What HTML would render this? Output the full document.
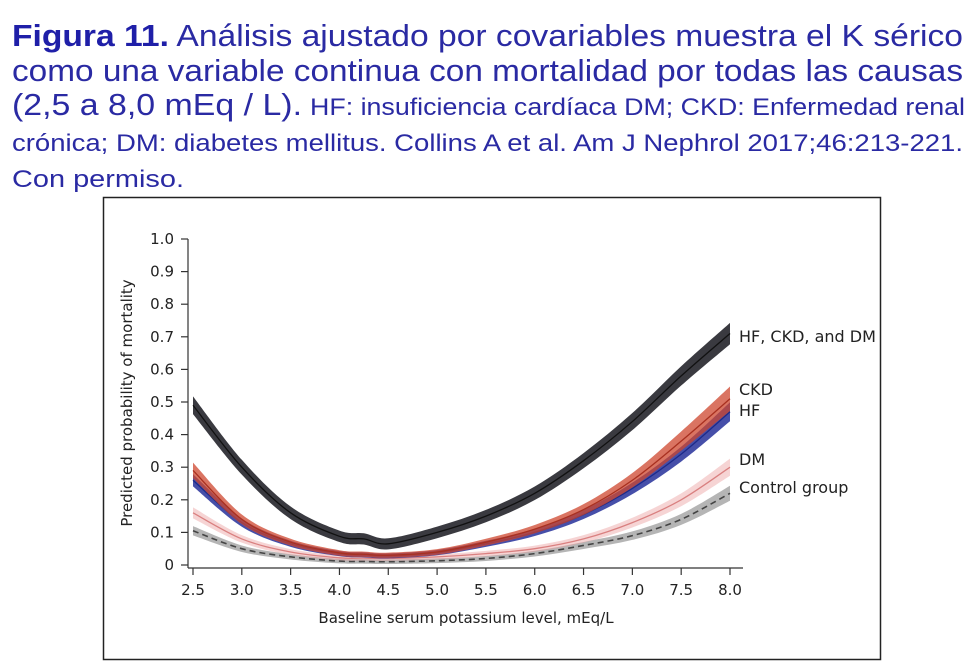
<!DOCTYPE html>
<html><head><meta charset="utf-8"><style>
html,body{margin:0;padding:0;background:#fff;}
svg{display:block;}
</style></head><body>
<svg id="fig" width="975" height="669" viewBox="0 0 975 669" xmlns="http://www.w3.org/2000/svg">
<g font-family="'Liberation Sans', sans-serif" fill="#2a2aa3">
<text x="12" y="46" font-size="31" textLength="951" lengthAdjust="spacingAndGlyphs"><tspan font-weight="bold" fill="#1f1fa8">Figura 11.</tspan> Análisis ajustado por covariables muestra el K sérico</text>
<text x="12" y="81" font-size="31" textLength="951" lengthAdjust="spacingAndGlyphs">como una variable continua con mortalidad por todas las causas</text>
<text x="12" y="115" font-size="31" textLength="290" lengthAdjust="spacingAndGlyphs">(2,5 a 8,0 mEq / L).</text>
<text x="310" y="115" font-size="24" textLength="655" lengthAdjust="spacingAndGlyphs">HF: insuficiencia cardíaca DM; CKD: Enfermedad renal</text>
<text x="12" y="151" font-size="24" textLength="951" lengthAdjust="spacingAndGlyphs">crónica; DM: diabetes mellitus. Collins A et al. Am J Nephrol 2017;46:213-221.</text>
<text x="12" y="187" font-size="24" textLength="172" lengthAdjust="spacingAndGlyphs">Con permiso.</text>
</g>
<rect x="103.5" y="197.5" width="777" height="462" fill="none" stroke="#222" stroke-width="1.5"/>
<g id="plot"></g>
</svg>
<script>
const xs = [2.5,3.0,3.5,4.0,4.25,4.5,5.0,5.5,6.0,6.5,7.0,7.5,8.0];
const yHFCKDDM = [0.49,0.30,0.16,0.088,0.08,0.065,0.10,0.15,0.22,0.32,0.44,0.58,0.71];
const yCKD = [0.29,0.14,0.07,0.037,0.033,0.03,0.04,0.07,0.11,0.17,0.26,0.38,0.51];
const yHF = [0.26,0.13,0.065,0.035,0.031,0.028,0.038,0.065,0.10,0.155,0.235,0.34,0.47];
const yDM = [0.16,0.08,0.04,0.022,0.021,0.02,0.025,0.035,0.05,0.08,0.13,0.20,0.30];
const yControl = [0.105,0.05,0.025,0.012,0.011,0.01,0.013,0.02,0.035,0.06,0.09,0.14,0.22];
const xTicks = [2.5,3.0,3.5,4.0,4.5,5.0,5.5,6.0,6.5,7.0,7.5,8.0];
const xTickLabels = ["2.5","3.0","3.5","4.0","4.5","5.0","5.5","6.0","6.5","7.0","7.5","8.0"];
const yTicks = [0,0.1,0.2,0.3,0.4,0.5,0.6,0.7,0.8,0.9,1.0];
const yTickLabels = ["0","0.1","0.2","0.3","0.4","0.5","0.6","0.7","0.8","0.9","1.0"];
const seriesNames = ["HF, CKD, and DM","CKD","HF","DM","Control group"];

const NS="http://www.w3.org/2000/svg";
const g=document.getElementById('plot');
const X=v=>193+(v-2.5)*(730-193)/5.5;
const Y=v=>565-v*326;
const FF="'DejaVu Sans', sans-serif";
function mk(tag,attrs,parent){const e=document.createElementNS(NS,tag);for(const k in attrs)e.setAttribute(k,attrs[k]);(parent||g).appendChild(e);return e;}
function smooth(pts){let d="M"+pts[0][0]+","+pts[0][1];for(let i=0;i<pts.length-1;i++){const p0=pts[Math.max(i-1,0)],p1=pts[i],p2=pts[i+1],p3=pts[Math.min(i+2,pts.length-1)];const c1=[p1[0]+(p2[0]-p0[0])/6,p1[1]+(p2[1]-p0[1])/6],c2=[p2[0]-(p3[0]-p1[0])/6,p2[1]-(p3[1]-p1[1])/6];d+=" C"+c1[0]+","+c1[1]+" "+c2[0]+","+c2[1]+" "+p2[0]+","+p2[1];}return d;}
function curve(ys,bandColor,lineColor,hw,name,dash,lineW){
  const up=xs.map((x,i)=>[X(x),Y(ys[i])-hw(ys[i])]);
  const lo=xs.map((x,i)=>[X(x),Y(ys[i])+hw(ys[i])]).reverse();
  const d=smooth(up)+" L"+smooth(lo).slice(1)+" Z";
  const b=mk('path',{d:d,fill:bandColor});
  
  
  const l=mk('path',{d:smooth(xs.map((x,i)=>[X(x),Y(ys[i])])),fill:'none',stroke:lineColor,'stroke-width':lineW||1.3});
  if(dash)l.setAttribute('stroke-dasharray',dash);
  
  
}
curve(yControl,'rgba(120,120,120,0.55)','#444',v=>2+v*25,'control-group','6,4',1.6);
curve(yDM,'rgba(235,160,160,0.45)','#d98080',v=>2+v*22,'dm');
curve(yHF,'rgba(50,60,160,0.9)','#1c2a8a',v=>2+v*16,'hf');
curve(yCKD,'rgba(205,70,45,0.75)','#a83020',v=>2+v*20,'ckd');
curve(yHFCKDDM,'#3a3a40','#111',v=>5+v*8,'hf-ckd-dm');

const ya=mk('line',{x1:188,y1:239,x2:188,y2:568,stroke:'#333','stroke-width':1.2});


const xa=mk('line',{x1:188,y1:568,x2:743,y2:568,stroke:'#333','stroke-width':1.2});


yTicks.forEach((v,i)=>{
  const t=mk('line',{x1:181,y1:Y(v),x2:188,y2:Y(v),stroke:'#333','stroke-width':1.2});
  
  
  const tx=mk('text',{x:174,y:Y(v)+5,'text-anchor':'end','font-size':15,'font-family':FF,fill:'#222'});
  tx.textContent=yTickLabels[i];
  
  
});
xTicks.forEach((v,i)=>{
  const t=mk('line',{x1:X(v),y1:568,x2:X(v),y2:575,stroke:'#333','stroke-width':1.2});
  
  
  const tx=mk('text',{x:X(v),y:595,'text-anchor':'middle','font-size':15,'font-family':FF,fill:'#222'});
  tx.textContent=xTickLabels[i];
  
  
});
const xt=mk('text',{x:466,y:623,'text-anchor':'middle','font-size':15,'font-family':FF,fill:'#222'});
xt.textContent="Baseline serum potassium level, mEq/L";


const yt=mk('text',{x:0,y:0,'text-anchor':'middle','font-size':15,'font-family':FF,fill:'#222',transform:'translate(132,403) rotate(-90)'});
yt.textContent="Predicted probability of mortality";


const labelY=[342,395,416,465,493];
seriesNames.forEach((n,i)=>{
  const tx=mk('text',{x:739,y:labelY[i],'font-size':16,'font-family':FF,fill:'#222'});
  tx.textContent=n;
  
  
});
</script>
</body></html>
